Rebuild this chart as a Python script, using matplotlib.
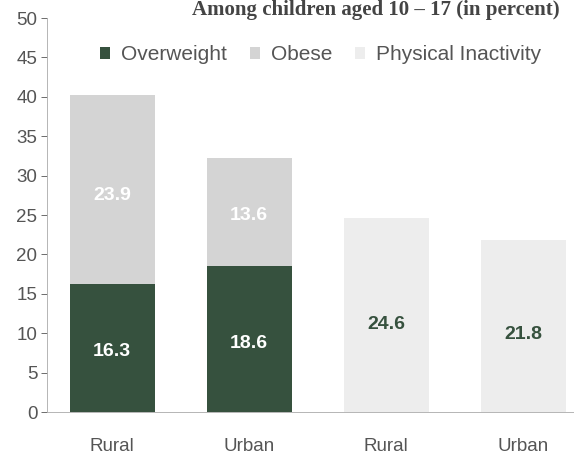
import matplotlib
matplotlib.use("Agg")
import matplotlib.pyplot as plt
import numpy as np

plt.rcParams['font.family'] = ['Liberation Sans', 'DejaVu Sans']

# data
categories = ["Rural", "Urban", "Rural", "Urban"]
overweight = [16.3, 18.6, 0, 0]
obese = [23.9, 13.6, 0, 0]
inactivity = [0, 0, 24.6, 21.8]
yticks = [0, 5, 10, 15, 20, 25, 30, 35, 40, 45, 50]

c_over = "#36513e"
c_obese = "#d4d4d4"
c_inact = "#ededed"
grey = "#555555"

fig = plt.figure(figsize=(5.74, 4.62), dpi=100)
ax = fig.add_axes([0.082, 0.108, 0.918, 0.853])

x = np.arange(len(categories))
w = 0.62
ax.bar(x[:2], overweight[:2], w, color=c_over, label="Overweight")
ax.bar(x[:2], obese[:2], w, bottom=overweight[:2], color=c_obese, label="Obese")
ax.bar(x[2:], inactivity[2:], w, color=c_inact, label="Physical Inactivity")

# value labels
for i in range(2):
    ax.text(x[i], overweight[i] * 0.47, f"{overweight[i]:.1f}", ha="center", va="center",
            color="white", fontsize=14, fontweight="bold")
    ax.text(x[i], overweight[i] + obese[i] * 0.47, f"{obese[i]:.1f}", ha="center", va="center",
            color="white", fontsize=14, fontweight="bold")
for i in range(2, 4):
    ax.text(x[i], inactivity[i] * 0.45, f"{inactivity[i]:.1f}", ha="center", va="center",
            color=c_over, fontsize=14, fontweight="bold")

ax.set_xlim(-0.475, 3.37)
ax.set_ylim(0, 50)
ax.set_yticks(yticks)
ax.set_xticks(x)
ax.set_xticklabels(categories)
ax.tick_params(axis="y", colors=grey, labelsize=13.5, length=4, width=0.6, pad=3)
ax.tick_params(axis="x", colors=grey, labelsize=13.5, length=0, pad=19)
for s in ["top", "right"]:
    ax.spines[s].set_visible(False)
for s in ["left", "bottom"]:
    ax.spines[s].set_color("#aaaaaa")
    ax.spines[s].set_linewidth(0.6)

ax.legend(ncol=3, frameon=False, loc="upper left", bbox_to_anchor=(0.065, 0.978),
          fontsize=15, handlelength=0.5, handleheight=0.5, handletextpad=0.5,
          columnspacing=1.1, labelcolor=grey)

fig.text(0.975, 0.999, "Among children aged 10 \u2013 17 (in percent)", ha="right", va="top",
         fontsize=15, fontweight="bold", family="Liberation Serif", color="#444444")

fig.savefig("out.png", dpi=100)
